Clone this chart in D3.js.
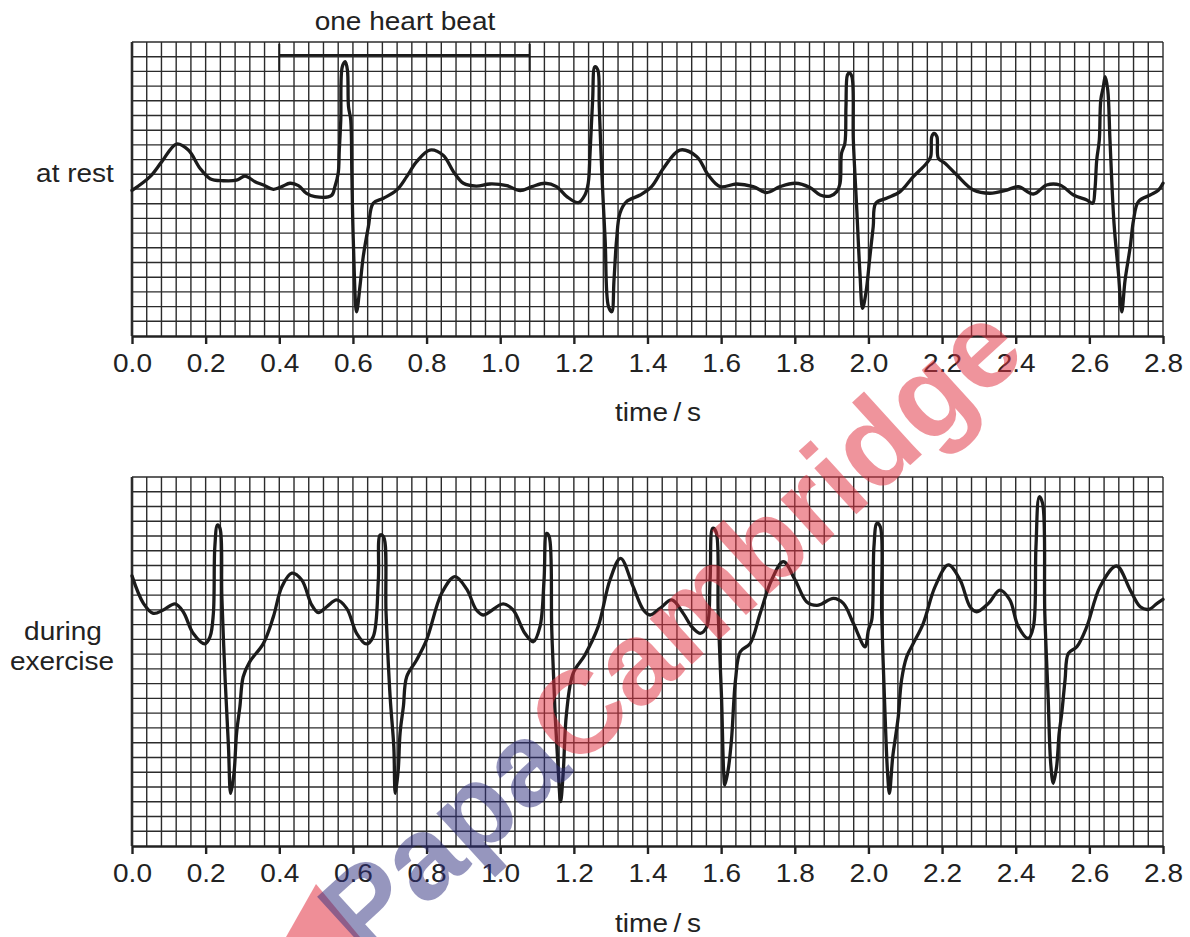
<!DOCTYPE html>
<html>
<head>
<meta charset="utf-8">
<script src="https://cdn.jsdelivr.net/npm/d3@7"></script>
<style>
  body { margin: 0; background: #fff; }
  svg { display: block; }
  text { font-family: "Liberation Sans", Arial, sans-serif; fill: #222; }
</style>
</head>
<body>
<div id="chart"></div>
<script>
// Time axis and heart-beat marker
const tickValues = [0.0, 0.2, 0.4, 0.6, 0.8, 1.0, 1.2, 1.4, 1.6, 1.8, 2.0, 2.2, 2.4, 2.6, 2.8];
const beatStart = 0.40;
const beatEnd = 1.08;

// ECG at rest: [time (s), height in small squares]
const restTrace = [
  [0.000, 9.9], [0.049, 10.84], [0.081, 11.86], [0.121, 13.06], [0.153, 12.65], [0.185, 11.4],
  [0.212, 10.7], [0.248, 10.56], [0.284, 10.6], [0.307, 10.88], [0.334, 10.5], [0.357, 10.27],
  [0.384, 9.98], [0.407, 10.16], [0.429, 10.39], [0.452, 10.23], [0.474, 9.7], [0.497, 9.48],
  [0.542, 9.57], [0.551, 10.16], [0.560, 11.07], [0.563, 12.65], [0.567, 14.7], [0.571, 18.3],
  [0.579, 18.66], [0.585, 18.1], [0.588, 15.6], [0.594, 14.7], [0.597, 11.1], [0.601, 6.53],
  [0.610, 1.65], [0.619, 3.35], [0.628, 5.4], [0.642, 7.44], [0.655, 9.03], [0.683, 9.37],
  [0.719, 9.93], [0.746, 10.84], [0.773, 11.86], [0.809, 12.65], [0.845, 12.3], [0.873, 11.18],
  [0.900, 10.39], [0.935, 10.2], [0.972, 10.34], [1.018, 10.23], [1.054, 9.89], [1.086, 10.16],
  [1.122, 10.39], [1.153, 10.16], [1.181, 9.48], [1.212, 9.07], [1.230, 9.59], [1.239, 10.39],
  [1.244, 12.43], [1.251, 16.05], [1.257, 18.32], [1.265, 18.1], [1.269, 15.6], [1.276, 11.07],
  [1.285, 6.53], [1.294, 2.0], [1.303, 1.65], [1.309, 3.8], [1.316, 6.53], [1.325, 8.34],
  [1.343, 9.14], [1.380, 9.59], [1.411, 10.16], [1.443, 11.4], [1.488, 12.65], [1.534, 12.2],
  [1.565, 10.95], [1.597, 10.16], [1.642, 10.34], [1.687, 10.16], [1.724, 9.76], [1.760, 10.16],
  [1.801, 10.39], [1.841, 10.1], [1.869, 9.59], [1.896, 9.52], [1.914, 9.82], [1.923, 10.39],
  [1.927, 12.43], [1.936, 13.1], [1.939, 15.6], [1.943, 17.76], [1.948, 17.9], [1.955, 17.65],
  [1.959, 13.33], [1.968, 8.8], [1.977, 4.26], [1.984, 1.88], [1.993, 2.9], [2.004, 5.4],
  [2.013, 7.44], [2.020, 9.03], [2.049, 9.37], [2.086, 9.82], [2.122, 10.84], [2.158, 11.75],
  [2.169, 12.2], [2.172, 13.56], [2.178, 13.79], [2.186, 13.56], [2.190, 12.09], [2.208, 11.75],
  [2.240, 10.95], [2.285, 9.93], [2.330, 9.71], [2.376, 9.93], [2.407, 10.16], [2.448, 9.66],
  [2.484, 10.27], [2.520, 10.27], [2.557, 9.59], [2.593, 9.25], [2.609, 9.03], [2.615, 9.93],
  [2.620, 11.97], [2.627, 13.33], [2.631, 16.05], [2.638, 16.96], [2.643, 17.65], [2.650, 16.73],
  [2.656, 13.33], [2.667, 7.66], [2.679, 4.26], [2.688, 1.65], [2.697, 3.8], [2.711, 6.07],
  [2.720, 7.89], [2.733, 9.14], [2.765, 9.59], [2.788, 9.93], [2.800, 10.39]
];

// ECG during exercise: [time (s), height in small squares]
const exerciseTrace = [
  [0.000, 18.3], [0.031, 16.44], [0.058, 15.76], [0.085, 15.99], [0.117, 16.4], [0.139, 15.87],
  [0.166, 14.41], [0.198, 13.69], [0.212, 14.18], [0.221, 15.76], [0.225, 20.28], [0.232, 21.75],
  [0.239, 21.52], [0.244, 16.89], [0.253, 11.25], [0.262, 6.73], [0.268, 3.57], [0.277, 4.93],
  [0.284, 7.64], [0.293, 9.44], [0.302, 11.47], [0.320, 12.49], [0.357, 13.73], [0.384, 15.54],
  [0.407, 17.57], [0.434, 18.48], [0.461, 18.02], [0.488, 16.33], [0.506, 15.81], [0.529, 16.21],
  [0.556, 16.67], [0.583, 16.1], [0.610, 14.41], [0.636, 13.69], [0.655, 14.18], [0.669, 18.02],
  [0.674, 21.07], [0.683, 20.96], [0.690, 15.76], [0.701, 10.12], [0.711, 6.73], [0.715, 3.57],
  [0.723, 5.15], [0.728, 7.64], [0.737, 9.44], [0.746, 11.47], [0.773, 12.6], [0.800, 13.96],
  [0.841, 17.12], [0.877, 18.25], [0.909, 17.4], [0.935, 16.0], [0.954, 15.65], [1.008, 16.4],
  [1.035, 15.99], [1.067, 14.41], [1.090, 13.84], [1.108, 14.86], [1.119, 18.02], [1.126, 21.18],
  [1.133, 20.96], [1.140, 14.63], [1.149, 8.99], [1.158, 4.93], [1.164, 3.0], [1.171, 4.93],
  [1.180, 8.99], [1.198, 11.7], [1.230, 12.94], [1.266, 14.86], [1.298, 18.02], [1.327, 19.49],
  [1.361, 17.57], [1.389, 15.99], [1.407, 15.65], [1.434, 16.1], [1.466, 16.67], [1.497, 15.76],
  [1.520, 14.86], [1.543, 14.41], [1.561, 14.86], [1.570, 18.02], [1.577, 21.52], [1.586, 21.3],
  [1.592, 15.76], [1.601, 10.12], [1.607, 4.93], [1.610, 4.13], [1.619, 5.15], [1.628, 7.18],
  [1.639, 11.25], [1.652, 13.16], [1.679, 13.73], [1.706, 15.76], [1.737, 18.02], [1.769, 19.26],
  [1.801, 18.02], [1.832, 16.55], [1.860, 16.3], [1.873, 16.4], [1.905, 16.78], [1.932, 16.44],
  [1.959, 15.09], [1.991, 13.5], [2.000, 14.63], [2.009, 15.31], [2.015, 20.28], [2.023, 21.86],
  [2.032, 21.64], [2.036, 15.76], [2.045, 8.99], [2.052, 4.93], [2.057, 3.57], [2.066, 6.05],
  [2.075, 7.64], [2.081, 8.76], [2.090, 11.25], [2.104, 12.83], [2.122, 13.73], [2.149, 15.09],
  [2.181, 17.57], [2.217, 19.04], [2.249, 18.02], [2.276, 16.21], [2.294, 15.87], [2.326, 16.44],
  [2.357, 17.34], [2.384, 16.67], [2.407, 14.86], [2.434, 14.06], [2.448, 14.86], [2.455, 20.28],
  [2.464, 23.66], [2.473, 23.21], [2.479, 15.76], [2.488, 10.12], [2.495, 5.6], [2.502, 4.25],
  [2.511, 5.37], [2.518, 7.64], [2.525, 8.99], [2.534, 11.25], [2.543, 13.05], [2.566, 13.5],
  [2.593, 14.86], [2.629, 17.57], [2.674, 18.97], [2.711, 17.34], [2.738, 16.21], [2.761, 16.03],
  [2.784, 16.44], [2.800, 16.71]
];

const width = 1190;
const height = 937;

const svg = d3.select('#chart')
  .append('svg')
  .attr('width', width)
  .attr('height', height);

const x = d3.scaleLinear().domain([0, 2.8]).range([132, 1163]);

// one panel of ECG paper with its trace
function drawPanel(trace, rows, top, bottom) {
  const y = d3.scaleLinear().domain([0, rows]).range([bottom, top]);
  const g = svg.append('g');

  // grid: 0.04 s columns, square rows
  const cols = d3.range(0, 71).map(i => i * 0.04);
  g.selectAll('.vline')
    .data(cols)
    .enter()
    .append('line')
    .attr('x1', d => x(d)).attr('x2', d => x(d))
    .attr('y1', y(rows)).attr('y2', y(0))
    .attr('stroke', '#2b2b2b')
    .attr('stroke-width', (d, i) => i === 0 ? 2.6 : 1.4);

  g.selectAll('.hline')
    .data(d3.range(1, rows + 1))
    .enter()
    .append('line')
    .attr('x1', x(0)).attr('x2', x(2.8))
    .attr('y1', d => y(d)).attr('y2', d => y(d))
    .attr('stroke', '#2b2b2b')
    .attr('stroke-width', 1.4);

  // time axis
  const axis = g.append('g')
    .attr('transform', `translate(0,${y(0)})`)
    .call(d3.axisBottom(x)
      .tickValues(tickValues)
      .tickSize(8)
      .tickSizeOuter(0)
      .tickFormat(d3.format('.1f')));

  axis.select('.domain')
    .attr('stroke', '#222')
    .attr('stroke-width', 2.6);
  axis.selectAll('.tick line')
    .attr('stroke', '#222')
    .attr('stroke-width', 2.4);
  axis.selectAll('.tick text')
    .attr('y', null)
    .attr('dy', null)
    .attr('fill', '#222')
    .style('font-size', '25px')
    .style('font-family', '"Liberation Sans", Arial, sans-serif')
    .attr('transform', 'translate(0,36) scale(1.12,1)');

  const line = d3.line()
    .x(d => x(d[0]))
    .y(d => y(d[1]))
    .curve(d3.curveCatmullRom.alpha(0.5));

  g.append('path')
    .datum(trace)
    .attr('d', line)
    .attr('fill', 'none')
    .attr('stroke', '#1b1b1b')
    .attr('stroke-width', 3.3)
    .attr('stroke-linejoin', 'round')
    .attr('stroke-linecap', 'round');

  return y;
}

const yRest = drawPanel(restTrace, 20, 42, 336);
const yExercise = drawPanel(exerciseTrace, 25, 477, 846);

// text labels (slightly widened like the original lettering)
function label(txt, cx, baseline) {
  svg.append('text')
    .attr('transform', `translate(${cx},${baseline}) scale(1.12,1)`)
    .attr('text-anchor', 'middle')
    .style('font-size', '25px')
    .text(txt);
}

label('one heart beat', 405, 30);
label('at rest', 75, 182);
label('during', 63, 640);
label('exercise', 62, 670);
label('time\u2009/\u2009s', 658, 421);
label('time\u2009/\u2009s', 658, 932);

// heart beat bracket
const bracket = svg.append('g')
  .attr('stroke', '#1b1b1b')
  .attr('stroke-width', 2)
  .attr('fill', 'none');
bracket.append('line')
  .attr('x1', x(beatStart)).attr('x2', x(beatEnd))
  .attr('y1', 55).attr('y2', 55);
bracket.selectAll('.end')
  .data([beatStart, beatEnd])
  .enter()
  .append('line')
  .attr('x1', d => x(d)).attr('x2', d => x(d))
  .attr('y1', 44).attr('y2', 71);

// watermark
const wm = svg.append('g').style('pointer-events', 'none');
wm.append('polygon')
  .attr('points', '316,884 286,937 360,937')
  .attr('fill', 'rgba(225,50,65,0.55)');
const wmText = wm.append('text')
  .attr('transform', 'translate(366,962) rotate(-42.4)')
  .style('font-size', '118px')
  .style('font-weight', 'bold');
wmText.append('tspan')
  .attr('fill', 'rgba(45,45,125,0.5)')
  .text('Papa');
wmText.append('tspan')
  .attr('fill', 'rgba(225,50,65,0.52)')
  .text('Cambridge');
</script>
</body>
</html>
